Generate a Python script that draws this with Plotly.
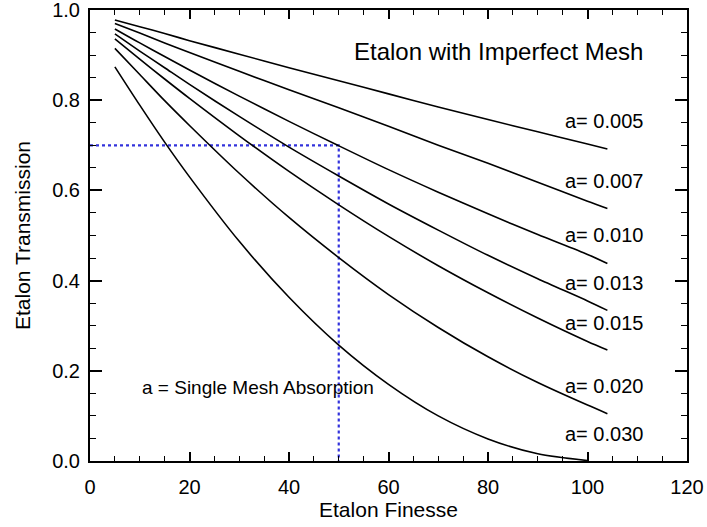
import plotly.graph_objects as go

# Etalon finesse sample points (x)
finesse = [5, 10, 15, 20, 30, 40, 50, 60, 70, 80, 90, 100, 104]

# Transmission values for each single-mesh absorption a
t_005 = [0.978, 0.963, 0.948, 0.932, 0.902, 0.872, 0.843, 0.814, 0.785, 0.757, 0.730, 0.703, 0.692]
t_007 = [0.970, 0.949, 0.927, 0.906, 0.864, 0.823, 0.783, 0.742, 0.700, 0.660, 0.618, 0.576, 0.560]
t_010 = [0.958, 0.927, 0.897, 0.867, 0.809, 0.753, 0.699, 0.646, 0.596, 0.548, 0.502, 0.458, 0.438]
t_013 = [0.947, 0.909, 0.872, 0.835, 0.764, 0.696, 0.632, 0.570, 0.512, 0.456, 0.404, 0.355, 0.334]
t_015 = [0.936, 0.891, 0.847, 0.804, 0.721, 0.642, 0.568, 0.498, 0.433, 0.373, 0.317, 0.265, 0.246]
t_020 = [0.915, 0.857, 0.799, 0.744, 0.638, 0.540, 0.451, 0.369, 0.296, 0.231, 0.174, 0.124, 0.105]
finesse_030 = [5, 10, 15, 20, 30, 40, 50, 60, 70, 80, 90, 100]
t_030 = [0.874, 0.789, 0.707, 0.630, 0.487, 0.363, 0.257, 0.170, 0.100, 0.049, 0.016, 0.001]

curve_labels = ["a= 0.005", "a= 0.007", "a= 0.010", "a= 0.013", "a= 0.015", "a= 0.020", "a= 0.030"]
label_y = [0.754, 0.621, 0.502, 0.395, 0.306, 0.167, 0.060]
label_x = 95.0

guide_x = [0, 50, 50]
guide_y = [0.7, 0.7, 0.0]

x_ticks = [0, 20, 40, 60, 80, 100, 120]
y_ticks = [0.0, 0.2, 0.4, 0.6, 0.8, 1.0]
y_tick_text = ["0.0", "0.2", "0.4", "0.6", "0.8", "1.0"]

FONT = "Liberation Sans, Arial, Helvetica, sans-serif"

fig = go.Figure()

fig.add_trace(go.Scatter(x=guide_x, y=guide_y, mode="lines",
                         line=dict(color="rgb(50,50,220)", width=2.2, dash="dot"),
                         hoverinfo="skip", showlegend=False))

series = [(finesse, t_005), (finesse, t_007), (finesse, t_010), (finesse, t_013),
          (finesse, t_015), (finesse, t_020), (finesse_030, t_030)]
for xs, ys in series:
    fig.add_trace(go.Scatter(x=xs, y=ys, mode="lines",
                             line=dict(color="black", width=1.6, shape="spline", smoothing=0.8),
                             showlegend=False))

for txt, yy in zip(curve_labels, label_y):
    fig.add_annotation(x=label_x, y=yy, text=txt, showarrow=False,
                       xanchor="left", yanchor="middle",
                       font=dict(family=FONT, size=20, color="black"))

fig.add_annotation(x=111.5, y=0.909, text="Etalon with Imperfect Mesh", showarrow=False,
                   xanchor="right", yanchor="middle",
                   font=dict(family=FONT, size=24, color="black"))

fig.add_annotation(x=10, y=0.162, text="a = Single Mesh Absorption", showarrow=False,
                   xanchor="left", yanchor="middle",
                   font=dict(family=FONT, size=19, color="black"))

fig.update_xaxes(range=[0, 120], tickvals=x_ticks, ticks="inside", ticklen=9, tickwidth=1.5,
                 tickcolor="black", showline=True, linecolor="black", linewidth=2,
                 mirror="ticks", showgrid=False, zeroline=False, automargin=False,
                 ticklabeloverflow="allow",
                 minor=dict(dtick=5, ticks="inside", ticklen=5, tickwidth=1.2, tickcolor="black"),
                 tickfont=dict(family=FONT, size=20, color="black"),
                 ticklabelstandoff=7,
                 title=dict(text="Etalon Finesse", font=dict(family=FONT, size=21, color="black"),
                            standoff=4))

fig.update_yaxes(range=[0, 1.0], tickvals=y_ticks, ticktext=y_tick_text, ticks="inside",
                 ticklen=12, tickwidth=1.5, tickcolor="black", showline=True, linecolor="black",
                 linewidth=2, mirror="ticks", showgrid=False, zeroline=False, automargin=False,
                 ticklabeloverflow="allow",
                 minor=dict(dtick=0.05, ticks="inside", ticklen=6, tickwidth=1.2, tickcolor="black"),
                 tickfont=dict(family=FONT, size=20, color="black"),
                 ticklabelstandoff=4,
                 title=dict(text="Etalon Transmission", font=dict(family=FONT, size=21, color="black"),
                            standoff=16))

fig.update_layout(width=707, height=527, margin=dict(l=90, r=20, t=10, b=66, autoexpand=False),
                  plot_bgcolor="white", paper_bgcolor="white",
                  font=dict(family=FONT, color="black"))

fig.write_html("out.html", config={"displayModeBar": False},
               post_script="document.body.style.margin='0px';")
